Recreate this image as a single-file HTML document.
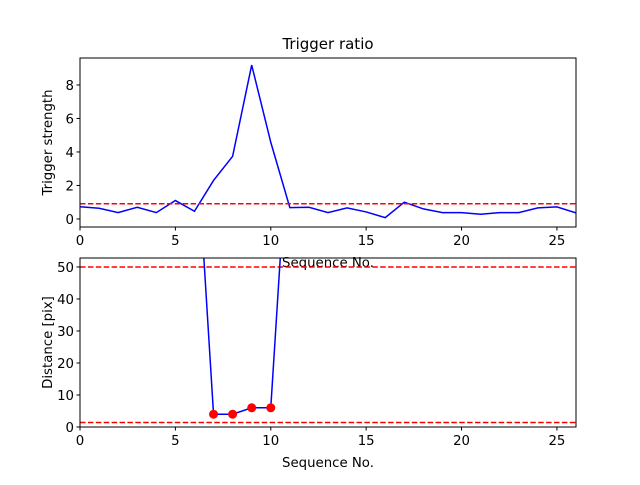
<!DOCTYPE html>
<html><head><meta charset="utf-8"><style>
body{margin:0;background:#fff;font-family:"Liberation Sans","DejaVu Sans",sans-serif;}
svg text{font-family:"DejaVu Sans","Liberation Sans",sans-serif;}
</style></head><body>
<svg id="c" width="640" height="480" xmlns="http://www.w3.org/2000/svg"></svg>
<script>
const seqTop=[0,1,2,3,4,5,6,7,8,9,10,11,12,13,14,15,16,17,18,19,20,21,22,23,24,25,26];
const strength=[0.73,0.64,0.38,0.7,0.38,1.1,0.46,2.3,3.74,9.19,4.58,0.68,0.7,0.38,0.66,0.42,0.08,1.0,0.6,0.38,0.38,0.28,0.38,0.38,0.66,0.72,0.36];
const thresholdTop=[0.91];
const seqBot=[6,7,8,9,10,11];
const distance=[100,4,4,6,6,100];
const markerSeq=[7,8,9,10];
const markerDist=[4,4,6,6];
const thresholdsBot=[50,1.4];
const xTicks=[0,5,10,15,20,25];
const yTicksTop=[0,2,4,6,8];
const yTicksBot=[0,10,20,30,40,50];

const svg=document.getElementById('c');
const NS='http://www.w3.org/2000/svg';
function mk(tag,attrs,parent){const e=document.createElementNS(NS,tag);for(const k in attrs)e.setAttribute(k,attrs[k]);(parent||svg).appendChild(e);return e;}

function panel(id,top,bottom,ymin,ymax,xlabel,ylabel){
  const L=80,R=576;
  const sx=v=>L+(v-0)/(26-0)*(R-L);
  const sy=v=>bottom-(v-ymin)/(ymax-ymin)*(bottom-top);
  const g=mk('g',{});
  
  
  const cp=mk('clipPath',{id:id+'clip'},g);
  mk('rect',{x:L,y:top,width:R-L,height:bottom-top},cp);
  return {g,sx,sy,L,R,top,bottom,clip:'url(#'+id+'clip)',xlabel,ylabel};
}
function frame(p,yt,id){
  const {g,sx,sy,L,R,top,bottom}=p;
  const fr=mk('rect',{x:L,y:top,width:R-L,height:bottom-top,fill:'none',stroke:'#000','stroke-width':1},g);
  
  
  xTicks.forEach(t=>{const x=sx(t);mk('line',{x1:x,x2:x,y1:bottom,y2:bottom+3.5,stroke:'#000'},g);
    const tx=mk('text',{x:x,y:bottom+18,'font-size':13.3,'text-anchor':'middle'},g);tx.textContent=t;
    
    });
  yt.forEach(t=>{const y=sy(t);mk('line',{x1:L-3.5,x2:L,y1:y,y2:y,stroke:'#000'},g);
    const tx=mk('text',{x:L-6,y:y+5,'font-size':13.3,'text-anchor':'end'},g);tx.textContent=t;
    
    });
  const xl=mk('text',{x:(L+R)/2,y:bottom+40,'font-size':13.3,'text-anchor':'middle'},g);xl.textContent=p.xlabel;
  
  
  const cy=(top+bottom)/2;
  const yl=mk('text',{x:52,y:cy,'font-size':13.3,'text-anchor':'middle',transform:'rotate(-90 52 '+cy+')'},g);yl.textContent=p.ylabel;
  
  
}

// top panel
const p1=panel('top',58,227,-0.48,9.61,'Sequence No.','Trigger strength');
const l1=mk('polyline',{points:seqTop.map((s,i)=>p1.sx(s)+','+p1.sy(strength[i])).join(' '),fill:'none',stroke:'#0000ff','stroke-width':1.5,'clip-path':p1.clip},p1.g);


thresholdTop.forEach(v=>{const d=mk('line',{x1:p1.L,x2:p1.R,y1:p1.sy(v),y2:p1.sy(v),stroke:'#ff0000','stroke-width':1.5,'stroke-dasharray':'5.5,2.4'},p1.g);
  
  });
frame(p1,yTicksTop,'top');
const title=mk('text',{x:328,y:49,'font-size':15,'text-anchor':'middle'});title.textContent='Trigger ratio';



// bottom panel
const p2=panel('bot',258,427,0,52.8,'Sequence No.','Distance [pix]');
thresholdsBot.forEach(v=>{const d=mk('line',{x1:p2.L,x2:p2.R,y1:p2.sy(v),y2:p2.sy(v),stroke:'#ff0000','stroke-width':1.5,'stroke-dasharray':'5.5,2.4'},p2.g);
  
  });
const l2=mk('polyline',{points:seqBot.map((s,i)=>p2.sx(s)+','+p2.sy(distance[i])).join(' '),fill:'none',stroke:'#0000ff','stroke-width':1.5,'clip-path':p2.clip},p2.g);


markerSeq.forEach((s,i)=>{const c=mk('circle',{cx:p2.sx(s),cy:p2.sy(markerDist[i]),r:4.5,fill:'#ff0000'},p2.g);
  
  });
frame(p2,yTicksBot,'bot');
</script>
</body></html>
